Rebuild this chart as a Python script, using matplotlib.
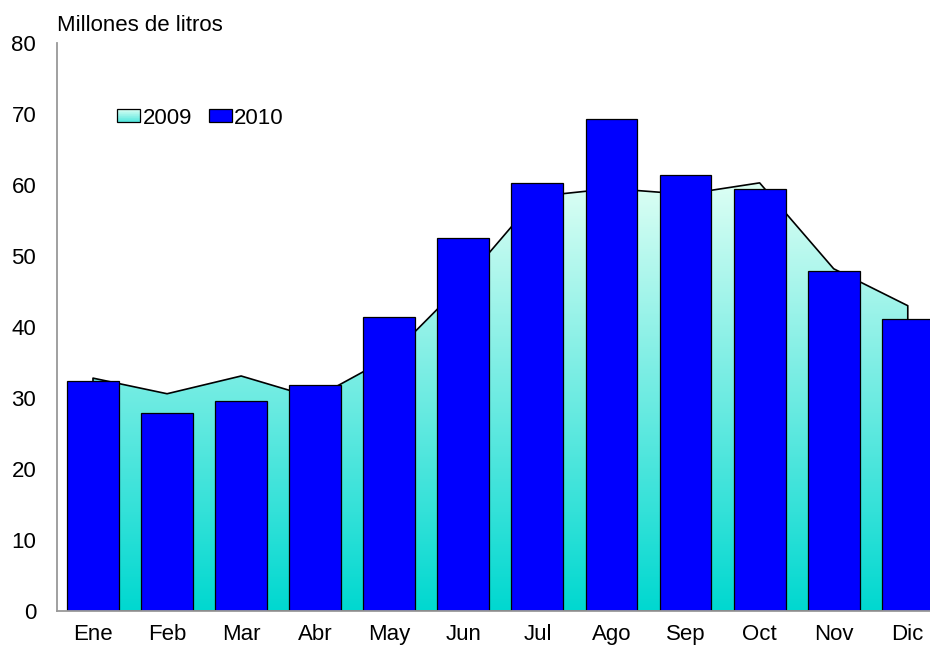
import numpy as np
import matplotlib
matplotlib.use('Agg')
import matplotlib.pyplot as plt
from matplotlib.colors import LinearSegmentedColormap
from matplotlib.legend_handler import HandlerBase
from matplotlib.patches import Rectangle, Patch

months = ['Ene', 'Feb', 'Mar', 'Abr', 'May', 'Jun', 'Jul', 'Ago', 'Sep', 'Oct', 'Nov', 'Dic']
v2009 = [32.8, 30.6, 33.1, 30.0, 35.7, 46.2, 58.4, 59.5, 58.7, 60.3, 48.2, 43.0]
v2010 = [32.4, 27.9, 29.6, 31.9, 41.4, 52.5, 60.3, 69.3, 61.4, 59.4, 47.9, 41.1]
yticks = [0, 10, 20, 30, 40, 50, 60, 70, 80]
ylabel_txt = 'Millones de litros'

plt.rcParams['font.family'] = ['Liberation Sans', 'DejaVu Sans']
FS = 16

W, H = 930, 648
fig = plt.figure(figsize=(W / 100, H / 100), dpi=100)
ax = fig.add_axes([57 / W, 37 / H, (W - 57) / W, (611 - 43) / H])

bottom_c = '#00D8D0'
top_c = '#DDFFF4'
cmap = LinearSegmentedColormap.from_list('g', [bottom_c, top_c])

x = np.arange(len(months))
# area 2009
poly = ax.fill_between(x, v2009, 0, facecolor='none', edgecolor='black', linewidth=1.2, zorder=2)
grad = np.linspace(0, 1, 256).reshape(-1, 1)
im = ax.imshow(grad, origin='lower', extent=[x[0], x[-1], 0, max(v2009)], aspect='auto',
               cmap=cmap, zorder=1)
im.set_clip_path(poly.get_paths()[0], transform=ax.transData)

# bars 2010
ax.bar(x, v2010, width=0.70, color='#0000FF', edgecolor='black', linewidth=0.9, zorder=3)

ax.set_xlim(-0.486, 11.30)
ax.set_ylim(0, 80)
ax.set_yticks(yticks)
ax.set_xticks(x)
ax.set_xticklabels(months)
ax.tick_params(axis='both', length=0, labelsize=FS)
ax.tick_params(axis='y', pad=15)
ax.tick_params(axis='x', pad=9.5)
for s in ['top', 'right']:
    ax.spines[s].set_visible(False)
for s in ['left', 'bottom']:
    ax.spines[s].set_color('#999999')
    ax.spines[s].set_linewidth(1.3)
    ax.spines[s].set_zorder(4)

fig.text(57 / W, 1 - 31 / H, ylabel_txt, fontsize=FS, va='baseline', ha='left')


class GradHandler(HandlerBase):
    def create_artists(self, legend, orig_handle, xdescent, ydescent, width, height, fontsize, trans):
        arts = []
        n = 20
        for i in range(n):
            c = cmap(0.35 + 0.65 * (i + 0.5) / n)
            arts.append(Rectangle((-xdescent, -ydescent + i * height / n), width, height / n,
                                  facecolor=c, edgecolor='none', transform=trans))
        arts.append(Rectangle((-xdescent, -ydescent), width, height, facecolor='none',
                              edgecolor='black', linewidth=0.9, transform=trans))
        return arts


h2009 = Patch(label='2009')
h2010 = Patch(facecolor='#0000FF', edgecolor='black', linewidth=0.9, label='2010')
ax.legend(handles=[h2009, h2010], handler_map={h2009: GradHandler()},
          loc='center left', bbox_to_anchor=(117 / W, 1 - 118 / H), bbox_transform=fig.transFigure,
          ncol=2, frameon=False, fontsize=FS, borderpad=0, borderaxespad=0,
          handlelength=1.05, handleheight=0.55, handletextpad=0.1, columnspacing=0.75)

fig.savefig('out.png', dpi=100)
